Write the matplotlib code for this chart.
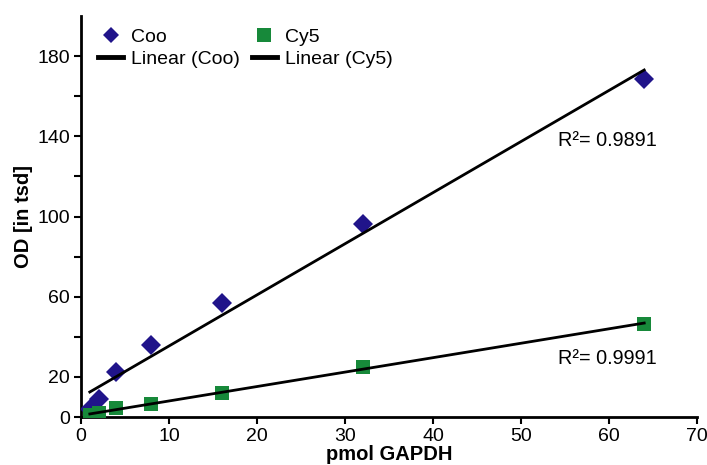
import numpy as np
import matplotlib
matplotlib.use("Agg")
import matplotlib.pyplot as plt
from matplotlib.lines import Line2D
from matplotlib.ticker import FixedLocator, FuncFormatter

plt.rcParams['font.family'] = ['Liberation Sans', 'DejaVu Sans']

x_vals = [1, 2, 4, 8, 16, 32, 64]
coo = [4, 9, 22.5, 35.7, 57, 96.5, 168.5]
cy5 = [1, 2, 4.5, 6.3, 12, 24.7, 46.5]
r2_coo = "R²= 0.9891"
r2_cy5 = "R²= 0.9991"
y_ticks = [0, 20, 40, 60, 80, 100, 120, 140, 160, 180]
y_labeled = [0, 20, 60, 100, 140, 180]
x_ticks = [0, 10, 20, 30, 40, 50, 60, 70]

coo_color = '#20148a'
cy5_color = '#17893a'

fig = plt.figure(figsize=(7.07, 4.65), dpi=100)
ax = fig.add_axes([81/707, 1 - 417/465, (697-81)/707, (417-16)/465])

x = np.array(x_vals, dtype=float)
xs = np.array([x.min(), x.max()])

p_coo = np.polyfit(x, coo, 1)
p_cy5 = np.polyfit(x, cy5, 1)

ax.plot(x, coo, linestyle='none', marker='D', markersize=10,
        color=coo_color, markeredgewidth=0, zorder=3)
ax.plot(x, cy5, linestyle='none', marker='s', markersize=10.5,
        color=cy5_color, markeredgewidth=0, zorder=3)
ax.plot(xs, np.polyval(p_coo, xs), color='black', lw=2, zorder=4)
ax.plot(xs, np.polyval(p_cy5, xs), color='black', lw=2, zorder=4)

ax.set_xlim(0, 70)
ax.set_ylim(0, 200)
ax.spines['top'].set_visible(False)
ax.spines['right'].set_visible(False)
for s in ('left', 'bottom'):
    ax.spines[s].set_linewidth(2)
ax.set_xticks(x_ticks)
ax.yaxis.set_major_locator(FixedLocator(y_ticks))
ax.yaxis.set_major_formatter(FuncFormatter(lambda v, p: f"{int(v)}" if int(round(v)) in y_labeled else ""))
ax.tick_params(axis='both', labelsize=14, width=1.5, length=5, direction='out', pad=3)

ax.set_xlabel('pmol GAPDH', fontsize=14.5, fontweight='bold', labelpad=0)
ax.set_ylabel('OD [in tsd]', fontsize=14.5, fontweight='bold', labelpad=3)

ax.text(54.2, 138, r2_coo, fontsize=14.3, ha='left', va='center')
ax.text(54.2, 29, r2_cy5, fontsize=14.3, ha='left', va='center')

handles = [
    Line2D([], [], linestyle='none', marker='D', markersize=8, color=coo_color,
           markeredgewidth=0, label='Coo'),
    Line2D([], [], color='black', lw=3.5, label='Linear (Coo)'),
    Line2D([], [], linestyle='none', marker='s', markersize=9.5, color=cy5_color,
           markeredgewidth=0, label='Cy5'),
    Line2D([], [], color='black', lw=3.5, label='Linear (Cy5)'),
]
leg = fig.legend(handles=handles, ncol=2,
                 loc='upper left', bbox_to_anchor=(98/707, 1 - 28/465),
                 frameon=False, fontsize=14, handlelength=1.3,
                 handletextpad=0.4, columnspacing=0.6, labelspacing=0.22,
                 borderpad=0, borderaxespad=0)

fig.savefig('out.png', dpi=100)
